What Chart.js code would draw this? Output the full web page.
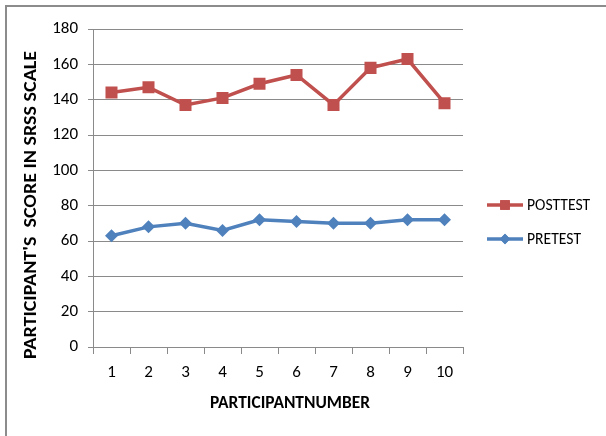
<!DOCTYPE html>
<html>
<head>
<meta charset="utf-8">
<script src="https://cdn.jsdelivr.net/npm/chart.js@4/dist/chart.umd.min.js"></script>
<style>
  html, body { margin: 0; padding: 0; background: #fff; }
  #wrap { width: 606px; height: 436px; position: relative; }
</style>
</head>
<body>
<div id="wrap"><canvas id="c" width="606" height="436"></canvas></div>
<script>
// Participant numbers along the x axis
const participants = ['1', '2', '3', '4', '5', '6', '7', '8', '9', '10'];
// SRSS scale scores
const posttestScores = [144, 147, 137, 141, 149, 154, 137, 158, 163, 138];
const pretestScores = [63, 68, 70, 66, 72, 71, 70, 70, 72, 72];
// Axis range and labels
const yMin = 0, yMax = 180, yStep = 20;
const xTitle = 'PARTICIPANTNUMBER';
const yTitle = "PARTICIPANT'S  SCORE IN SRSS SCALE";

const RED = '#c0504d';
const BLUE = '#4f81bd';
const GRID = '#8a8a8a';
const FONT = "Carlito, Calibri, Lato, sans-serif";

// Draws text centred at (x, y), stretched along its run to a given length
function stretchedText(ctx, text, x, y, length, angle) {
  ctx.save();
  ctx.translate(x, y);
  ctx.rotate(angle);
  const w = ctx.measureText(text).width;
  ctx.scale(length / w, 1);
  ctx.fillText(text, 0, 0);
  ctx.restore();
}

// Frame lines, axis titles and the series key
const decorations = {
  id: 'decorations',
  afterDraw(chart) {
    const ctx = chart.ctx;
    ctx.save();
    // frame on the top and left edges
    ctx.strokeStyle = '#8c8c8c';
    ctx.lineWidth = 2;
    ctx.beginPath();
    ctx.moveTo(6, 436);
    ctx.lineTo(6, 6);
    ctx.lineTo(606, 6);
    ctx.stroke();

    // axis titles
    ctx.fillStyle = '#000';
    ctx.textAlign = 'center';
    ctx.textBaseline = 'middle';
    ctx.font = "bold 17px " + FONT;
    stretchedText(ctx, xTitle, 290, 404, 160, 0);
    stretchedText(ctx, yTitle, 32, 205, 308, -Math.PI / 2);

    // series key, in the order POSTTEST then PRETEST
    const order = [1, 0];
    order.forEach((di, i) => {
      const ds = chart.data.datasets[di];
      const y = 205 + i * 34;
      ctx.strokeStyle = ds.borderColor;
      ctx.lineWidth = 3.5;
      ctx.beginPath();
      ctx.moveTo(487, y);
      ctx.lineTo(523, y);
      ctx.stroke();
      ctx.fillStyle = ds.borderColor;
      Chart.helpers.drawPoint(ctx, {
        pointStyle: ds.pointStyle,
        radius: ds.pointRadius * 0.8,
        borderWidth: 0
      }, 505, y);
      ctx.fill();
      ctx.fillStyle = '#000';
      ctx.font = "17px " + FONT;
      ctx.textAlign = 'left';
      ctx.textBaseline = 'middle';
      ctx.save();
      ctx.translate(527, y + 1);
      ctx.scale(0.92, 1);
      ctx.fillText(ds.label, 0, 0);
      ctx.restore();
    });
    ctx.restore();
  }
};

new Chart(document.getElementById('c'), {
  type: 'line',
  data: {
    labels: participants,
    datasets: [
      {
        label: 'PRETEST',
        data: pretestScores,
        borderColor: BLUE,
        backgroundColor: BLUE,
        borderWidth: 3.5,
        pointStyle: 'rectRot',
        pointRadius: 6.5,
        pointHoverRadius: 6.5,
        pointBorderWidth: 0,
        tension: 0
      },
      {
        label: 'POSTTEST',
        data: posttestScores,
        borderColor: RED,
        backgroundColor: RED,
        borderWidth: 3.5,
        pointStyle: 'rect',
        pointRadius: 8.5,
        pointHoverRadius: 8.5,
        pointBorderWidth: 0,
        tension: 0
      }
    ]
  },
  options: {
    responsive: false,
    animation: false,
    events: [],
    layout: { padding: { left: 0, top: 29, right: 143, bottom: 0 } },
    plugins: {
      legend: { display: false },
      tooltip: { enabled: false }
    },
    scales: {
      x: {
        offset: true,
        grid: {
          display: true,
          offset: true,
          drawOnChartArea: false,
          drawTicks: true,
          tickLength: 7,
          color: GRID
        },
        border: { display: true, color: GRID, width: 1 },
        ticks: {
          color: '#000',
          font: { family: FONT, size: 17 },
          padding: 9,
          maxRotation: 0
        },
        afterFit(scale) { scale.height = 89; }
      },
      y: {
        min: yMin,
        max: yMax,
        ticks: {
          stepSize: yStep,
          color: '#000',
          font: { family: FONT, size: 17 },
          padding: 10
        },
        grid: {
          color: GRID,
          lineWidth: 1,
          tickLength: 5
        },
        border: { display: true, color: GRID, width: 1 },
        afterFit(scale) { scale.width = 93; }
      }
    }
  },
  plugins: [decorations]
});
</script>
</body>
</html>
